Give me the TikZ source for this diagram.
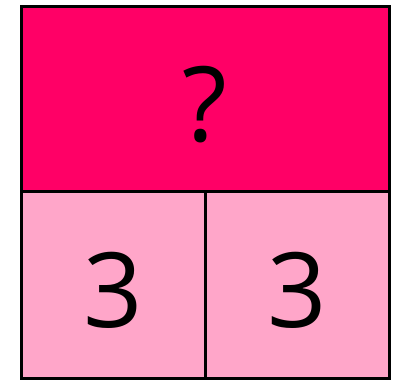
\documentclass[tikz,border=0pt]{standalone}
\usepackage{fontspec}
\setmainfont{Open Sans}
\usetikzlibrary{positioning}

\begin{document}
\begin{tikzpicture}[x=1pt, y=1pt]

% ── Colour palette ──────────────────────────────────────────
\definecolor{whole}{HTML}{FF0066}
\definecolor{part}{HTML}{FFA6C9}

\tikzset{
  cell/.style={draw=black, line width=3pt, inner sep=0pt, outer sep=0pt},
  num/.style={font=\fontsize{104}{110}\selectfont, inner sep=0pt}
}

\useasboundingbox (0,0) rectangle (394,380);

% ── Bar cells ───────────────────────────────────────────────
\node[cell, fill=whole, minimum width=367.5pt, minimum height=185pt]
    (wholecell) at (205.25,280.5) {};
\node[cell, fill=part, minimum width=184pt, minimum height=187pt, anchor=north west]
    (leftcell) at (wholecell.south west) {};
\node[cell, fill=part, minimum width=183.5pt, minimum height=187pt, anchor=north east]
    (rightcell) at (wholecell.south east) {};

% ── Labels ──────────────────────────────────────────────────
\node[num] (unknown) at (205,275) {?};
\node[num] (leftnum) at (113,90) {3};
\node[num] (rightnum) at (297,90) {3};

\end{tikzpicture}
\end{document}
